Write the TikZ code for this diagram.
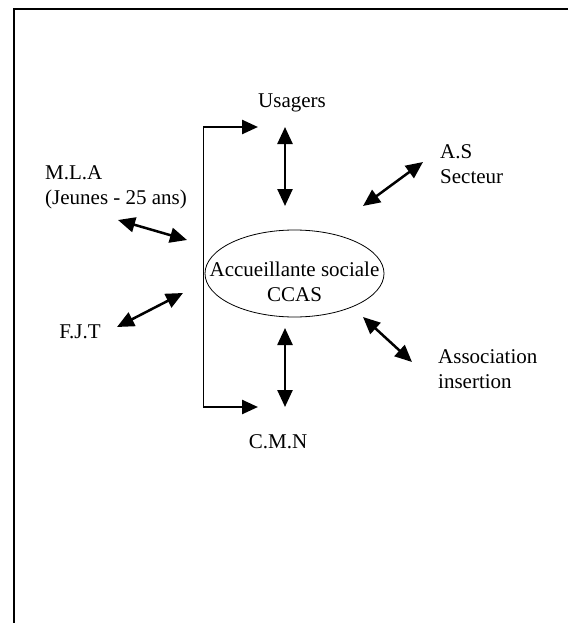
\documentclass[tikz,border=0pt]{standalone}
\usepackage{fontspec}
\setmainfont{Liberation Serif}
\usetikzlibrary{arrows.meta,shapes.geometric}

\tikzset{
  lbl/.style={inner sep=0pt, font=\fontsize{21}{25}\selectfont},
  link/.style={{Triangle[length=17pt,width=15pt]}-{Triangle[length=17pt,width=15pt]}, line width=2.5pt},
  feed/.style={-{Triangle[length=16pt,width=14pt]}, line width=2.5pt}
}

\begin{document}
\begin{tikzpicture}[x=1pt,y=-1pt]
\useasboundingbox (0,0) rectangle (568,623);

% frame (top and left side only)
\draw[line width=2pt] (13.5,623) |- (568,9.5);

% central node
\node[ellipse, draw, line width=0.8pt, minimum width=179pt, minimum height=87pt, inner sep=0pt] (ccas) at (294.5,273.5) {};
\node[lbl, align=center] (ccastxt) at ([yshift=-8.5pt]ccas.center) {Accueillante sociale\\CCAS};

% partners
\node[lbl] (usagers) at (292,103) {Usagers};
\node[lbl] (cmn) at (278,442) {C.M.N};
\node[lbl, anchor=west, align=left] (mla) at (45,187.5) {M.L.A\\(Jeunes - 25 ans)};
\node[lbl] (fjt) at (80,332) {F.J.T};
\node[lbl, anchor=west, align=left] (as) at (440,164.5) {A.S\\Secteur};
\node[lbl, anchor=west, align=left] (assoc) at (438,369.5) {Association\\insertion};

% arrow ends
\foreach \n/\x/\y in {usA/285/127, usB/285/206, cmA/285/328, cmB/285/407,
    mlA/118/220, mlB/187/240, fjA/183/293, fjB/117/327,
    asA/423/162, asB/363/206, aiA/363/317, aiB/412/362,
    brT/203/127, brB/203/407, brTo/258/127, brBo/258/407} {
    \coordinate (\n) at (\x,\y);
}

% double arrows
\foreach \a/\b in {usA/usB, cmA/cmB, mlA/mlB, fjA/fjB, asA/asB, aiA/aiB} {
    \draw[link] (\a) -- (\b);
}

% bracket
\draw[line width=1pt] (brT) -- (brB);
\draw[feed] (brT) -- (brTo);
\draw[feed] (brB) -- (brBo);

\end{tikzpicture}
\end{document}
